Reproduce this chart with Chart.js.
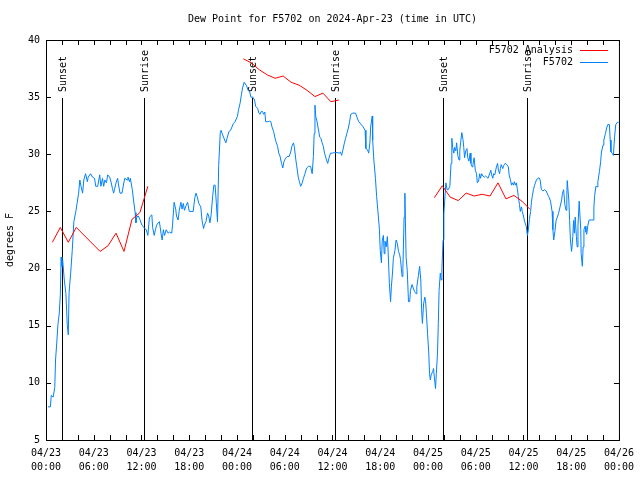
<!DOCTYPE html>
<html>
<head>
<meta charset="utf-8">
<title>Dew Point for F5702</title>
<script src="https://cdn.jsdelivr.net/npm/chart.js@4.4.1/dist/chart.umd.min.js"></script>
<style>
  body { margin: 0; background: #fff; }
</style>
</head>
<body>
<canvas id="dewChart" width="640" height="480"></canvas>
<script>
const titleText = 'Dew Point for F5702 on 2024-Apr-23 (time in UTC)';
const yAxisLabel = 'degrees F';

// x axis: hours since 04/23 00:00 UTC, labelled every 6 h
const xTickDates = ['04/23', '04/23', '04/23', '04/23', '04/24', '04/24', '04/24',
  '04/24', '04/25', '04/25', '04/25', '04/25', '04/26'];
const xTickTimes = ['00:00', '06:00', '12:00', '18:00', '00:00', '06:00', '12:00',
  '18:00', '00:00', '06:00', '12:00', '18:00', '00:00'];

const sunHours = [1.95, 12.35, 25.85, 36.3, 49.85, 60.4];
const sunLabels = ['Sunset', 'Sunrise', 'Sunset', 'Sunrise', 'Sunset', 'Sunrise'];

// F5702 observations
const obsHours = [
  0.25, 0.55, 0.66, 0.9, 1.1, 1.2, 1.35, 1.5, 1.67, 1.8, 1.9, 2.0, 2.1, 2.3, 2.5, 2.67, 2.8, 2.9,
  3.1, 3.3, 3.5, 3.75, 3.9, 4.1, 4.25, 4.4, 4.6, 4.75, 4.97, 5.2, 5.3, 5.6, 5.85, 6.1, 6.25, 6.5,
  6.75, 6.9, 7.1, 7.25, 7.4, 7.6, 7.75, 8.0, 8.2, 8.35, 8.5, 8.6, 8.8, 9.0, 9.1, 9.3, 9.55, 9.75,
  9.9, 10.2, 10.3, 10.5, 10.6, 10.85, 11.0, 11.2, 11.3, 11.4, 11.6, 11.8, 12.05, 12.2, 12.4, 12.6,
  12.8, 13.0, 13.3, 13.4, 13.6, 13.75, 13.9, 14.1, 14.25, 14.45, 14.6, 14.75, 14.9, 15.1, 15.35,
  15.5, 15.8, 15.9, 16.1, 16.3, 16.4, 16.6, 16.75, 16.95, 17.1, 17.25, 17.4, 17.6, 17.8, 18.0,
  18.5, 18.7, 18.85, 19.0, 19.2, 19.45, 19.6, 19.8, 19.9, 20.1, 20.3, 20.45, 20.6, 20.75, 20.95,
  21.1, 21.25, 21.4, 21.55, 21.7, 21.9, 22.0, 22.2, 22.45, 22.6, 22.75, 23.0, 23.2, 23.55, 23.75,
  24.05, 24.2, 24.4, 24.55, 24.7, 24.9, 25.0, 25.2, 25.4, 25.6, 25.75, 26.0, 26.2, 26.35, 26.6,
  26.75, 26.9, 27.05, 27.2, 27.35, 27.5, 27.6, 27.85, 28.1, 28.25, 28.4, 28.6, 28.75, 28.9, 29.1,
  29.25, 29.4, 29.6, 29.75, 29.9, 30.1, 30.3, 30.55, 30.75, 30.9, 31.1, 31.2, 31.4, 31.5, 31.7,
  31.85, 32.0, 32.2, 32.35, 32.5, 32.75, 33.0, 33.25, 33.45, 33.6, 33.7, 33.8, 33.9, 34.05, 34.2,
  34.4, 34.55, 34.7, 34.85, 35.0, 35.25, 35.4, 35.55, 35.75, 36.0, 36.25, 36.6, 36.85, 37.0,
  37.15, 37.3, 37.5, 37.65, 37.8, 38.0, 38.15, 38.3, 38.55, 38.9, 39.1, 39.3, 39.55, 39.85, 40.1,
  40.2, 40.4, 40.55, 40.7, 40.8, 41.0, 41.05, 41.2, 41.4, 41.55, 41.7, 41.9, 42.0, 42.15, 42.25,
  42.4, 42.5, 42.6, 42.75, 42.9, 43.0, 43.15, 43.3, 43.4, 43.55, 43.65, 43.85, 44.0, 44.15, 44.3,
  44.45, 44.55, 44.75, 44.85, 45.0, 45.1, 45.25, 45.4, 45.55, 45.7, 45.8, 46.0, 46.15, 46.3, 46.5,
  46.6, 46.8, 46.95, 47.1, 47.2, 47.3, 47.45, 47.6, 47.7, 47.8, 47.95, 48.1, 48.2, 48.3, 48.4,
  48.6, 48.7, 48.8, 48.95, 49.05, 49.2, 49.3, 49.4, 49.55, 49.65, 49.75, 49.9, 50.0, 50.1, 50.25,
  50.4, 50.55, 50.75, 50.9, 51.0, 51.1, 51.25, 51.35, 51.5, 51.6, 51.75, 51.9, 52.0, 52.1, 52.25,
  52.4, 52.5, 52.6, 52.75, 52.9, 53.0, 53.15, 53.3, 53.4, 53.55, 53.65, 53.8, 53.95, 54.1, 54.2,
  54.35, 54.5, 54.6, 54.75, 54.9, 55.1, 55.25, 55.4, 55.55, 55.75, 55.9, 56.0, 56.15, 56.25, 56.4,
  56.6, 56.75, 56.85, 57.0, 57.1, 57.2, 57.4, 57.5, 57.7, 57.9, 58.1, 58.2, 58.35, 58.5, 58.6,
  58.75, 58.85, 59.0, 59.1, 59.25, 59.35, 59.5, 59.6, 59.75, 59.85, 60.0, 60.1, 60.2, 60.35, 60.5,
  60.6, 60.75, 60.9, 61.0, 61.1, 61.25, 61.4, 61.5, 61.65, 61.95, 62.1, 62.25, 62.45, 62.65, 62.85,
  63.1, 63.25, 63.4, 63.6, 63.7, 63.8, 63.95, 64.1, 64.25, 64.4, 64.6, 64.8, 64.9, 65.05, 65.2,
  65.35, 65.45, 65.5, 65.7, 65.8, 65.9, 66.05, 66.2, 66.3, 66.4, 66.5, 66.65, 66.75, 66.85, 67.0,
  67.2, 67.25, 67.4, 67.5, 67.6, 67.75, 67.85, 67.95, 68.1, 68.25, 68.75, 68.85, 68.95, 69.1,
  69.25, 69.35, 69.55, 69.7, 69.8, 70.0, 70.1, 70.3, 70.45, 70.6, 70.8, 70.9, 71.0, 71.2, 71.3,
  71.45, 71.6, 71.8, 71.95
];
const obsDew = [
  7.9, 7.9, 8.9, 8.75, 9.6, 12.0, 13.5, 15.1, 16.1, 17.7, 21.0, 20.2, 20.7, 19.0, 17.8, 15.1, 14.2, 17.9,
  19.6, 21.6, 24.1, 25.0, 25.7, 26.6, 27.75, 27.2, 26.6, 27.75, 28.3, 27.6, 28.0, 28.3, 28.0, 27.9, 27.2, 27.2,
  28.2, 27.2, 27.9, 27.2, 27.75, 27.5, 28.2, 28.0, 27.5, 27.0, 26.6, 26.9, 27.5, 27.9, 27.4, 26.6, 26.6, 27.4,
  27.9, 27.75, 28.0, 27.6, 27.9, 26.9, 26.0, 24.9, 24.0, 24.5, 24.6, 24.3, 23.8, 23.7, 23.5, 23.4,
  22.9, 24.5, 24.7, 23.6, 22.9, 23.4, 23.8, 24.0, 24.1, 23.1, 22.5, 23.4, 22.9, 23.4, 23.1,
  23.2, 23.1, 23.8, 25.8, 25.2, 24.6, 24.25, 25.1, 25.8, 25.2, 25.7, 25.1, 25.5, 25.8, 25.0,
  25.0, 26.2, 26.6, 26.3, 25.7, 25.4, 24.25, 23.5, 23.8, 24.1, 24.85, 24.6, 24.0, 24.7, 26.4,
  27.3, 27.3, 25.8, 24.1, 29.0, 31.9, 32.1, 31.7, 31.25, 31.0, 31.4, 32.0, 32.1, 32.7, 32.85,
  33.3, 33.9, 34.5, 35.2, 35.8, 36.3, 36.3, 36.0, 35.6, 35.45, 35.0, 35.0, 34.75, 34.2, 34.0,
  33.6, 33.5, 33.75, 33.75, 33.5, 33.7, 32.85, 32.85, 32.9, 32.85, 32.4, 32.0, 31.5, 31.1, 30.7,
  30.1, 29.85, 29.2, 28.8, 29.35, 29.65, 29.8, 29.8, 30.2, 30.7, 31.0, 30.7, 29.5, 29.0, 28.0,
  27.6, 27.2, 27.5, 27.9, 28.2, 28.8, 28.95, 28.95, 28.3, 29.8, 31.8, 34.3, 33.3, 32.9, 32.3,
  31.5, 31.4, 31.0, 30.7, 30.1, 29.5, 29.2, 29.65, 30.1, 30.1, 30.15, 30.15, 30.1, 30.2,
  29.9, 30.35, 31.0, 31.4, 31.8, 32.3, 32.85, 33.5, 33.6, 33.6, 33.2, 32.85, 32.65, 32.4, 32.1,
  30.5, 30.4, 30.1, 31.0, 32.4, 33.35, 31.25, 29.5, 27.9, 26.3, 25.1, 23.4, 21.6, 20.5, 22.4,
  22.9, 21.3, 22.4, 21.9, 22.8, 21.4, 18.7, 17.1, 18.4, 19.7, 20.9, 21.6, 22.5, 22.2, 21.5,
  21.2, 20.8, 19.3, 20.0, 24.5, 26.6, 21.0, 19.8, 17.1, 17.1, 18.1, 18.6, 18.3, 18.0, 17.8,
  18.4, 19.4, 20.2, 19.0, 16.4, 15.2, 16.9, 17.5, 17.2, 16.1, 14.3, 12.6, 10.8, 10.25, 10.7,
  11.0, 11.25, 10.5, 9.5, 10.8, 12.6, 15.2, 18.1, 19.6, 19.0, 20.0, 22.5, 24.8, 25.9, 27.5,
  26.9, 26.9, 27.2, 29.2, 31.4, 30.6, 30.1, 30.6, 30.3, 31.0, 29.9, 29.5, 30.3, 31.0, 31.9,
  31.3, 30.6, 29.7, 30.3, 30.5, 29.7, 29.4, 30.1, 29.2, 28.9, 29.1, 29.7, 28.6, 28.3, 27.5,
  27.6, 28.3, 27.9, 28.3, 28.1, 28.0, 28.1, 28.0, 27.9, 28.3, 28.6, 28.2, 27.9, 28.3, 28.2,
  28.9, 29.2, 28.6, 28.3, 28.75, 29.1, 28.75, 29.0, 29.2, 29.1, 28.9, 28.2, 27.8, 27.3, 27.5,
  27.3, 27.6, 27.3, 27.5, 26.9, 26.3, 25.6, 25.0, 25.4, 25.0, 24.6, 24.25, 24.0, 23.7, 22.9,
  23.3, 24.3, 25.0, 25.8, 26.3, 26.9, 27.3, 27.5, 27.8, 27.95, 27.75, 26.9, 26.8, 26.9, 26.8,
  26.4, 26.2, 25.9, 25.0, 23.4, 22.5, 23.25, 24.2, 24.5, 24.8, 25.4, 26.0, 26.6, 26.9, 25.6,
  25.1, 26.4, 27.7, 26.0, 24.2, 22.5, 21.5, 22.8, 24.2, 23.1, 24.5, 22.8, 21.9, 23.7, 25.9,
  23.4, 21.3, 20.2, 21.9, 23.4, 23.7, 23.2, 23.0, 23.8, 24.25, 24.25, 25.4, 26.4, 27.2,
  27.15, 27.6, 28.5, 29.35, 30.2, 30.8, 31.25, 31.8, 32.3, 32.6, 32.6, 31.25, 30.2, 30.05, 29.9,
  31.5, 32.6, 32.8, 32.8
];

// F5702 Analysis (null breaks the line between runs)
const anaHours = [
  0.8, 1.8, 2.8, 3.8, 6.8, 7.8, 8.8, 9.8, 10.8, 11.8, 12.8, 18,
  24.8, 25.8, 26.8, 27.8, 28.8, 29.8, 30.8, 31.8, 32.8, 33.8, 34.8, 35.8, 36.8, 42,
  48.8, 49.8, 50.8, 51.8, 52.8, 53.8, 54.8, 55.8, 56.8, 57.8, 58.8, 59.8, 60.8
];
const anaDew = [
  22.3, 23.6, 22.3, 23.6, 21.5, 22.0, 23.1, 21.5, 24.3, 24.9, 27.2, null,
  38.35, 38.0, 37.4, 36.95, 36.65, 36.85, 36.3, 36.05, 35.6, 35.05, 35.35, 34.6, 34.75, null,
  26.2, 27.25, 26.25, 25.95, 26.6, 26.35, 26.5, 26.35, 27.5, 26.1, 26.4, 25.9, 25.2
];

const FONT = "10px 'DejaVu Sans Mono', monospace";
const RED = '#ff0000';
const BLUE = 'rgb(0, 128, 255)';

const gnuFrame = {
  id: 'gnuFrame',
  beforeDatasetsDraw(chart) {
    const { ctx, chartArea: a, scales: { x } } = chart;
    ctx.save();
    ctx.strokeStyle = '#000';
    ctx.lineWidth = 1;
    ctx.fillStyle = '#000';
    ctx.font = FONT;
    sunHours.forEach((h, i) => {
      const px = Math.round(x.getPixelForValue(h)) + 0.5;
      ctx.beginPath();
      ctx.moveTo(px, a.bottom);
      ctx.lineTo(px, a.top + 58);
      ctx.stroke();
      ctx.save();
      ctx.translate(px + 1, a.top + 52);
      ctx.rotate(-Math.PI / 2);
      ctx.textAlign = 'left';
      ctx.textBaseline = 'middle';
      ctx.fillText(sunLabels[i], 0, 0);
      ctx.restore();
    });
    ctx.restore();
  },
  afterDraw(chart) {
    const { ctx, chartArea: a, scales: { x, y } } = chart;
    ctx.save();
    ctx.strokeStyle = '#000';
    ctx.lineWidth = 1;
    ctx.strokeRect(a.left + 0.5, a.top + 0.5, a.right - a.left, a.bottom - a.top);

    // inward ticks, every 2 h on x and every 5 deg on y
    ctx.beginPath();
    for (let h = 0; h <= 72; h += 2) {
      const px = Math.round(x.getPixelForValue(h)) + 0.5;
      ctx.moveTo(px, a.bottom); ctx.lineTo(px, a.bottom - 5);
      ctx.moveTo(px, a.top); ctx.lineTo(px, a.top + 5);
    }
    for (let v = 5; v <= 40; v += 5) {
      const py = Math.round(y.getPixelForValue(v)) + 0.5;
      ctx.moveTo(a.left, py); ctx.lineTo(a.left + 5, py);
      ctx.moveTo(a.right, py); ctx.lineTo(a.right - 5, py);
    }
    ctx.stroke();

    ctx.fillStyle = '#000';
    ctx.font = FONT;
    ctx.textAlign = 'center';
    ctx.textBaseline = 'middle';
    ctx.fillText(titleText, (a.left + a.right) / 2, 19);

    ctx.save();
    ctx.translate(10, (a.top + a.bottom) / 2);
    ctx.rotate(-Math.PI / 2);
    ctx.fillText(yAxisLabel, 0, 0);
    ctx.restore();

    // key
    const keys = [['F5702 Analysis', RED], ['F5702', BLUE]];
    keys.forEach(([label, color], i) => {
      const ky = a.top + 10 + i * 12;
      ctx.textAlign = 'right';
      ctx.fillStyle = '#000';
      ctx.fillText(label, a.right - 46, ky);
      ctx.strokeStyle = color;
      ctx.beginPath();
      ctx.moveTo(a.right - 39, ky + 0.5);
      ctx.lineTo(a.right - 11, ky + 0.5);
      ctx.stroke();
    });
    ctx.restore();
  }
};

Chart.defaults.font.family = "'DejaVu Sans Mono', monospace";
Chart.defaults.font.size = 10;
Chart.defaults.color = '#000';

new Chart(document.getElementById('dewChart'), {
  type: 'line',
  data: {
    datasets: [
      {
        label: 'F5702 Analysis',
        data: anaHours.map((h, i) => ({ x: h, y: anaDew[i] })),
        borderColor: RED,
        borderWidth: 1,
        pointRadius: 0,
        spanGaps: false,
        tension: 0
      },
      {
        label: 'F5702',
        data: obsHours.map((h, i) => ({ x: h, y: obsDew[i] })),
        borderColor: BLUE,
        borderWidth: 1,
        pointRadius: 0,
        tension: 0
      }
    ]
  },
  options: {
    responsive: false,
    animation: false,
    devicePixelRatio: 1,
    layout: { padding: { top: 40, right: 19, bottom: 0, left: 0 } },
    plugins: {
      legend: { display: false },
      title: { display: false },
      tooltip: { enabled: false }
    },
    scales: {
      x: {
        type: 'linear',
        min: 0,
        max: 72,
        grid: { display: false, drawTicks: false },
        border: { display: false },
        ticks: {
          stepSize: 6,
          autoSkip: false,
          maxRotation: 0,
          padding: 6,
          font: { lineHeight: 1.4 },
          callback: (value, index) => [xTickDates[index], xTickTimes[index]]
        },
        afterFit: (scale) => { scale.height = 40; }
      },
      y: {
        min: 5,
        max: 40,
        grid: { display: false, drawTicks: false },
        border: { display: false },
        ticks: { stepSize: 5, padding: 6 },
        afterFit: (scale) => { scale.width = 46; }
      }
    }
  },
  plugins: [gnuFrame]
});
</script>
</body>
</html>
